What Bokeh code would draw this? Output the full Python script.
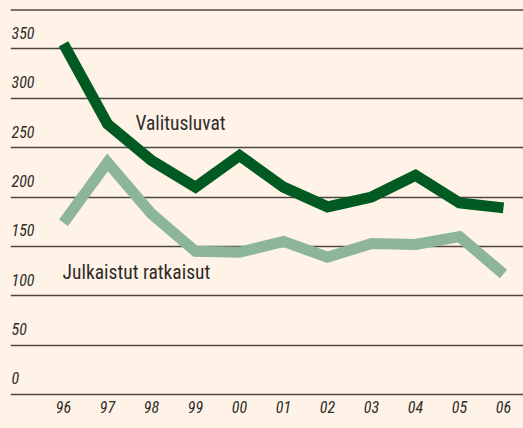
from bokeh.plotting import figure
from bokeh.models import ColumnDataSource, Range1d, FixedTicker, Grid, Span
from bokeh.core.properties import value
from bokeh.embed import file_html
from bokeh.resources import INLINE

# ---- data ----
years = ["96", "97", "98", "99", "00", "01", "02", "03", "04", "05", "06"]
valitusluvat = [355, 274, 237, 210, 242, 210, 190, 200, 222, 194, 189]
julkaistut = [174, 235, 183, 145, 144, 155, 139, 153, 152, 160, 122]
y_ticks = [0, 50, 100, 150, 200, 250, 300, 350]
y_labels = ["0", "50", "100", "150", "200", "250", "300", "350"]
series_names = ["Valitusluvat", "Julkaistut ratkaisut"]

# ---- style ----
BG = "#fef3e6"
DARK = "#005a22"
LIGHT = "#8db59a"
GRID = "#4e4644"
TEXT = "#2f2b2a"
FONT = "'Roboto Condensed', 'DejaVu Sans Condensed'"

idx = list(range(len(years)))
x_start, x_end = -1.2045, 10.4545
y_start, y_end = -2.03, 399.0

p = figure(width=523, height=428, output_backend="svg", toolbar_location=None,
           x_range=Range1d(x_start, x_end), y_range=Range1d(y_start, y_end),
           y_axis_location=None,
           min_border_left=10, min_border_right=0, min_border_top=0, min_border_bottom=32,
           background_fill_color=BG, border_fill_color=BG, outline_line_color=None)

p.xgrid.visible = False
g = Grid(dimension=1, ticker=FixedTicker(ticks=y_ticks),
         grid_line_color=GRID, grid_line_width=1.5)
p.add_layout(g)
p.add_layout(Span(location=389.4, dimension="width", line_color=GRID, line_width=1.5))

xa = p.xaxis[0]
xa.ticker = FixedTicker(ticks=idx)
xa.major_label_overrides = {i: y for i, y in zip(idx, years)}
xa.axis_line_color = None
xa.major_tick_line_color = None
xa.minor_tick_line_color = None
xa.major_label_standoff = -2
xa.major_label_text_font = FONT
xa.major_label_text_font_style = "italic"
xa.major_label_text_font_size = "16px"
xa.major_label_text_color = TEXT

src = ColumnDataSource(dict(x=idx, v=valitusluvat, j=julkaistut))
p.line("x", "j", source=src, line_color=LIGHT, line_width=11, line_join="miter", line_cap="butt")
p.line("x", "v", source=src, line_color=DARK, line_width=11, line_join="miter", line_cap="butt")

ysrc = ColumnDataSource(dict(x=[x_start] * len(y_ticks), y=y_ticks, t=y_labels))
p.text("x", "y", text="t", source=ysrc, x_offset=1, y_offset=-10,
       text_baseline="bottom", text_align="left", text_font=value(FONT),
       text_font_style="italic", text_font_size="16px", text_color=TEXT)

asrc = ColumnDataSource(dict(x=[1.636, -0.02], y=[274, 123.5], t=series_names))
p.text("x", "y", text="t", source=asrc, text_baseline="alphabetic", text_align="left",
       text_font=value(FONT), text_font_size="19.5px", text_color=TEXT)

html = file_html(p, INLINE)
html = html.replace("</head>", "<style>html,body{background:%s;overflow:hidden}</style></head>" % BG, 1)
open("out.html", "w").write(html)
